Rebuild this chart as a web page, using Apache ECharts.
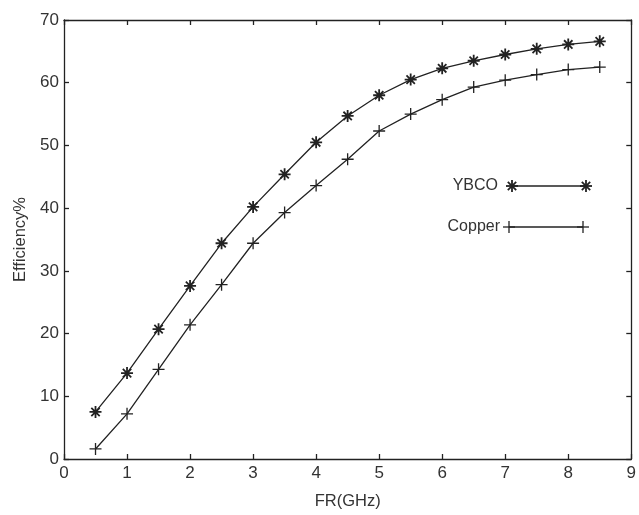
<!DOCTYPE html>
<html>
<head>
<meta charset="utf-8">
<script src="https://cdn.jsdelivr.net/npm/echarts@6/dist/echarts.min.js"></script>
<style>html,body{margin:0;padding:0;background:#fff;}#c{width:639px;height:515px;}</style>
</head>
<body>
<div id="c"></div>
<script>
const frequencies = [0.5,1,1.5,2,2.5,3,3.5,4,4.5,5,5.5,6,6.5,7,7.5,8,8.5];
const ybcoEfficiency = [7.5,13.7,20.7,27.6,34.4,40.2,45.4,50.5,54.7,58.0,60.5,62.3,63.5,64.5,65.4,66.1,66.6];
const copperEfficiency = [1.6,7.2,14.3,21.4,27.8,34.4,39.3,43.6,47.8,52.3,55.0,57.3,59.3,60.4,61.3,62.1,62.5];
const seriesNames = ['YBCO','Copper'];
const xTicks = [0,1,2,3,4,5,6,7,8,9];
const yTicks = [0,10,20,30,40,50,60,70];

const ink = '#222';
const textColor = '#333';
const font = 'Liberation Sans, Arial, sans-serif';
const plusPath = 'path://M10,0 L10,20 M0,10 L20,10';
const starPath = 'path://M10,0 L10,20 M0,10 L20,10 M3,3 L17,17 M17,3 L3,17';

function pairs(ys){ return frequencies.map((x,i)=>[x, ys[i]]); }

function markerLines(cx, cy, r, star){
  const els = [
    {type:'line', shape:{x1:cx, y1:cy-r, x2:cx, y2:cy+r}, style:{stroke:ink, lineWidth: star?1.8:1.3}},
    {type:'line', shape:{x1:cx-r, y1:cy, x2:cx+r, y2:cy}, style:{stroke:ink, lineWidth: star?1.8:1.3}}
  ];
  if (star){
    const d = r*0.7;
    els.push({type:'line', shape:{x1:cx-d, y1:cy-d, x2:cx+d, y2:cy+d}, style:{stroke:ink, lineWidth:1.8}});
    els.push({type:'line', shape:{x1:cx+d, y1:cy-d, x2:cx-d, y2:cy+d}, style:{stroke:ink, lineWidth:1.8}});
  }
  return els;
}

const legendItems = [
  {name: seriesNames[0], textRight: 498, y: 186, x1: 512, x2: 586, star: true},
  {name: seriesNames[1], textRight: 500, y: 227, x1: 509, x2: 583, star: false}
];
const graphic = [];
legendItems.forEach(it => {
  graphic.push({type:'text', x: it.textRight, y: it.y, style:{text: it.name, fill: textColor, font: '16px ' + font, textAlign:'right', textVerticalAlign:'middle'}});
  graphic.push({type:'line', shape:{x1: it.x1, y1: it.y, x2: it.x2, y2: it.y}, style:{stroke: ink, lineWidth: 1.3}});
  graphic.push(...markerLines(it.x1, it.y, 6, it.star));
  graphic.push(...markerLines(it.x2, it.y, 6, it.star));
});

const axisLine = {show:true, onZero:false, lineStyle:{color: ink, width: 1.3}};
const tick = {show:true, inside:true, length:5, lineStyle:{color: ink, width:1.3}};
const label = {color: textColor, fontSize: 17, fontFamily: font};

const chart = echarts.init(document.getElementById('c'));
chart.setOption({
  animation: false,
  backgroundColor: '#fff',
  grid: {left: 64, top: 20, width: 572, height: 449.5, containLabel: false},
  xAxis: [
    {type:'value', min: xTicks[0], max: xTicks[xTicks.length-1], interval: 1, position:'bottom',
     name:'FR(GHz)', nameLocation:'middle', nameGap: 34, nameTextStyle:{color:textColor, fontSize:16.5, fontFamily:font},
     axisLine, axisTick: tick, axisLabel: Object.assign({margin: 6}, label), splitLine:{show:false}},
    {type:'value', min: xTicks[0], max: xTicks[xTicks.length-1], interval: 1, position:'top',
     axisLine, axisTick: tick, axisLabel:{show:false}, splitLine:{show:false}}
  ],
  yAxis: [
    {type:'value', min: yTicks[0], max: yTicks[yTicks.length-1], interval: 10, position:'left',
     name:'Efficiency%', nameLocation:'middle', nameGap: 33, nameTextStyle:{color:textColor, fontSize:16.5, fontFamily:font},
     axisLine, axisTick: tick, axisLabel: Object.assign({margin: 5}, label), splitLine:{show:false}},
    {type:'value', min: yTicks[0], max: yTicks[yTicks.length-1], interval: 10, position:'right',
     axisLine, axisTick: tick, axisLabel:{show:false}, splitLine:{show:false}}
  ],
  series: [
    {name: seriesNames[0], type:'line', data: pairs(ybcoEfficiency), symbol: starPath, symbolSize: 12,
     lineStyle:{color: ink, width: 1.3}, itemStyle:{color: ink, borderColor: ink, borderWidth: 1.8}},
    {name: seriesNames[1], type:'line', data: pairs(copperEfficiency), symbol: plusPath, symbolSize: 12,
     lineStyle:{color: ink, width: 1.3}, itemStyle:{color: ink, borderColor: ink, borderWidth: 1.3}}
  ],
  graphic: graphic
});
</script>
</body>
</html>
